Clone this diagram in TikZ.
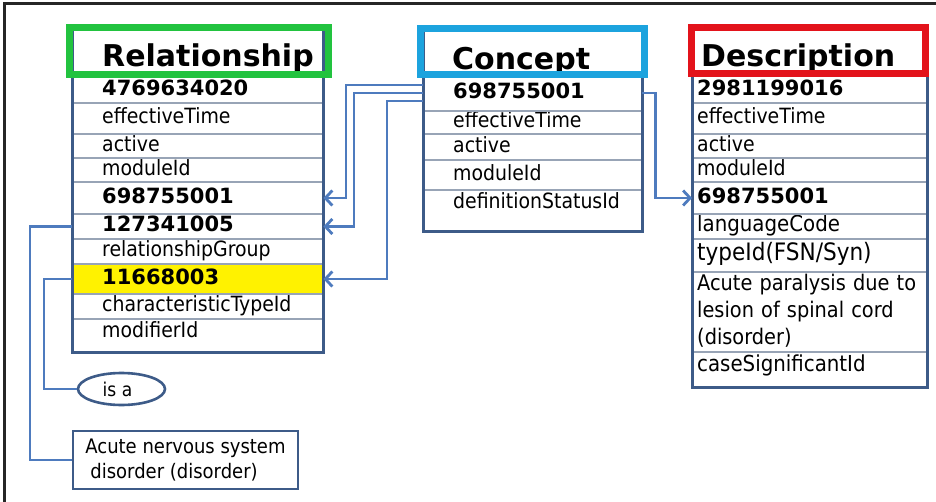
\documentclass[tikz,border=0pt]{standalone}
\usepackage{fontspec}
\setmainfont{DejaVu Sans Condensed}
\newfontfamily\widefont{DejaVu Sans}
\usetikzlibrary{arrows.meta,calc,shapes.geometric}
\definecolor{tline}{HTML}{3D5B88}
\definecolor{rowsep}{HTML}{98A4B6}
\definecolor{connc}{HTML}{4E7BBE}
\definecolor{hgreen}{HTML}{22C33F}
\definecolor{hblue}{HTML}{1CA3DE}
\definecolor{hred}{HTML}{E3131B}
\newcommand{\bid}[1]{{\widefont\bfseries #1}}
\begin{document}
\begin{tikzpicture}[x=1pt,y=-1pt,
  row/.style={anchor=west, inner sep=0pt, align=left, text height=15pt, text depth=4pt, font=\fontsize{21}{24}\selectfont},
  rrow/.style={row, text width=251pt},
  crow/.style={row, text width=219pt},
  drow/.style={row, text width=235pt},
  sep/.style={draw=rowsep, line width=1.6pt},
  tbox/.style={draw=tline, line width=3pt},
  head/.style={anchor=base west, inner sep=0pt, font=\widefont\fontsize{30}{32}\selectfont\bfseries},
  hrect/.style={line width=7pt},
  conn/.style={draw=connc, line width=2.8pt},
  arr/.style={-{Straight Barb[length=7pt,width=15pt]}}]
\useasboundingbox[fill=white] (0,0) rectangle (936,502);
\draw[line width=3pt, black!85] (4,502) -- (4,4) -- (936,4);

% ---------- Relationship ----------
\node[rrow, minimum height=26pt] (r1) at (72,90) {\hspace*{30pt}\bid{4769634020}};
\node[rrow, minimum height=31pt] (r2) at (72,118.5) {\hspace*{30pt}effectiveTime};
\node[rrow, minimum height=24pt] (r3) at (72,146) {\hspace*{30pt}active};
\node[rrow, minimum height=24pt] (r4) at (72,170) {\hspace*{30pt}moduleId};
\node[rrow, minimum height=32pt] (r5) at (72,198) {\hspace*{30pt}\bid{698755001}};
\node[rrow, minimum height=25pt] (r6) at (72,226.5) {\hspace*{30pt}\bid{127341005}};
\node[rrow, minimum height=25pt] (r7) at (72,251.5) {\hspace*{30pt}relationshipGroup};
\node[rrow, minimum height=30pt, fill=yellow] (r8) at (72,279) {\hspace*{30pt}\bid{11668003}};
\node[rrow, minimum height=25pt] (r9) at (72,306.5) {\hspace*{30pt}characteristicTypeId};
\node[rrow, minimum height=26pt] (r10) at (72,332) {\hspace*{30pt}modifierId};
\foreach \yy in {103,134,158,182,214,239,264,294,319}
  \draw[sep] (72,\yy) -- (323,\yy);
\draw[tbox] (72,30) rectangle (323,352);
\node[head] (rhead) at (102,67) {Relationship};
\draw[hrect, draw=hgreen] (69.5,28) rectangle (328,74.5);

% ---------- Concept ----------
\node[crow, minimum height=34pt] (c1) at (423,93) {\hspace*{30pt}\bid{698755001}};
\node[crow, minimum height=23pt] (c2) at (423,122.5) {\hspace*{30pt}effectiveTime};
\node[crow, minimum height=26pt] (c3) at (423,147) {\hspace*{30pt}active};
\node[crow, minimum height=30pt] (c4) at (423,175) {\hspace*{30pt}moduleId};
\node[crow, minimum height=26pt] (c5) at (423,203) {\hspace*{30pt}definitionStatusId};
\foreach \yy in {111,134,160,190}
  \draw[sep] (423,\yy) -- (642,\yy);
\draw[tbox] (423,30) rectangle (642,232);
\node[head] (chead) at (452,70) {Concept};
\draw[hrect, draw=hblue] (420.5,29) rectangle (644.5,74.5);

% ---------- Description ----------
\node[drow, minimum height=26pt] (d1) at (692,90) {\hspace*{5pt}\bid{2981199016}};
\node[drow, minimum height=31pt] (d2) at (692,118.5) {\hspace*{5pt}effectiveTime};
\node[drow, minimum height=24pt] (d3) at (692,146) {\hspace*{5pt}active};
\node[drow, minimum height=24pt] (d4) at (692,170) {\hspace*{5pt}moduleId};
\node[drow, minimum height=32pt] (d5) at (692,198) {\hspace*{5pt}\bid{698755001}};
\node[drow, minimum height=25pt, font=\fontsize{22}{24}\selectfont] (d6) at (692,226.5) {\hspace*{5pt}languageCode};
\node[drow, minimum height=33pt, font=\fontsize{24}{26}\selectfont] (d7) at (692,255.5) {\hspace*{5pt}typeId(FSN/Syn)};
\node[anchor=west, inner sep=0pt, align=left, text width=235pt, minimum height=80pt, font=\fontsize{21.5}{27}\selectfont] (d8) at (692,311) {\hspace*{5pt}Acute paralysis due to\\\hspace*{5pt}lesion of spinal cord\\\hspace*{5pt}(disorder)};
\node[drow, minimum height=30pt, font=\fontsize{22}{24}\selectfont] (d9) at (692,366) {\hspace*{5pt}caseSignificantId};
\foreach \yy in {103,134,158,182,214,239,272,352}
  \draw[sep] (692,\yy) -- (927,\yy);
\draw[tbox] (692,30) rectangle (927,387);
\node[head] (dhead) at (701,67) {Description};
\draw[hrect, draw=hred] (691.5,28) rectangle (925,74);

% ---------- lower boxes ----------
\node[ellipse, draw=tline, line width=2.6pt, minimum width=87pt, minimum height=32pt, inner sep=0pt, font=\fontsize{19}{22}\selectfont] (isa) at (121.5,389) {\hspace*{-8pt}is a};
\node[draw=tline, line width=2.6pt, minimum width=225pt, minimum height=58pt, inner sep=2pt, align=left, font=\fontsize{20}{25}\selectfont] (nerv) at (185.5,460) {Acute nervous system\\\hspace*{5pt}disorder (disorder)};

% ---------- connectors ----------
\draw[conn] (r6.west) -- ++(-42,0) |- (nerv.west);
\draw[conn] (r8.west) -- ++(-28,0) |- (isa.west);
\draw[conn, arr] ($(c1.west)+(0,-8)$) -- ++(-77,0) |- (r5.east);
\draw[conn, arr] (c1.west) -- ++(-69,0) |- (r6.east);
\draw[conn, arr] ($(c1.west)+(0,8)$) -- ++(-36,0) |- (r8.east);
\draw[conn, arr] (c1.east) -- ++(13,0) |- (d5.west);
\end{tikzpicture}
\end{document}
